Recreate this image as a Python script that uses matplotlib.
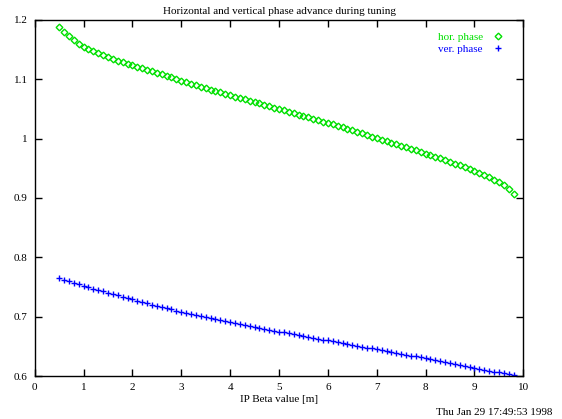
import numpy as np
import matplotlib.pyplot as plt

plt.rcParams['font.family'] = ['Liberation Serif', 'DejaVu Serif']

beta = np.round(np.arange(5, 99) / 10., 1)

hor_phase = [
    1.1880, 1.1800, 1.1730, 1.1660, 1.1600, 1.1550,
    1.1510, 1.1472, 1.1437, 1.1404, 1.1373, 1.1344, 1.1316, 1.1289, 1.1264, 1.1240,
    1.1215, 1.1190, 1.1165, 1.1140, 1.1113, 1.1086, 1.1059, 1.1032, 1.1006, 1.0980,
    1.0954, 1.0928, 1.0902, 1.0877, 1.0852, 1.0827, 1.0803, 1.0779, 1.0755, 1.0731,
    1.0708, 1.0685, 1.0662, 1.0639, 1.0616, 1.0593, 1.0570, 1.0547, 1.0524, 1.0501,
    1.0478, 1.0454, 1.0431, 1.0407, 1.0384, 1.0360, 1.0336, 1.0312, 1.0288, 1.0264,
    1.0240, 1.0215, 1.0190, 1.0164, 1.0138, 1.0113, 1.0087, 1.0061, 1.0035, 1.0009,
    0.9983, 0.9957, 0.9931, 0.9905, 0.9879, 0.9853, 0.9827, 0.9801, 0.9775, 0.9749,
    0.9723, 0.9695, 0.9667, 0.9638, 0.9609, 0.9579, 0.9549, 0.9518, 0.9486, 0.9453,
    0.9418, 0.9383, 0.9346, 0.9308, 0.9265, 0.9215, 0.9150, 0.9060,
]

ver_phase = [
    0.7650, 0.7622, 0.7595, 0.7569, 0.7544, 0.7520,
    0.7496, 0.7473, 0.7450, 0.7427, 0.7404, 0.7381, 0.7358, 0.7335, 0.7312, 0.7290,
    0.7268, 0.7247, 0.7226, 0.7205, 0.7184, 0.7163, 0.7142, 0.7121, 0.7100, 0.7080,
    0.7062, 0.7044, 0.7027, 0.7010, 0.6993, 0.6976, 0.6959, 0.6942, 0.6926, 0.6910,
    0.6894, 0.6878, 0.6862, 0.6846, 0.6830, 0.6814, 0.6798, 0.6782, 0.6766, 0.6750,
    0.6735, 0.6720, 0.6705, 0.6690, 0.6675, 0.6660, 0.6645, 0.6630, 0.6615, 0.6600,
    0.6585, 0.6570, 0.6555, 0.6540, 0.6525, 0.6510, 0.6495, 0.6480, 0.6465, 0.6450,
    0.6435, 0.6420, 0.6405, 0.6390, 0.6375, 0.6360, 0.6345, 0.6330, 0.6315, 0.6300,
    0.6284, 0.6268, 0.6252, 0.6236, 0.6220, 0.6204, 0.6188, 0.6172, 0.6156, 0.6140,
    0.6124, 0.6108, 0.6092, 0.6076, 0.6060, 0.6043, 0.6026, 0.6010,
]

xticks = [0, 1, 2, 3, 4, 5, 6, 7, 8, 9, 10]
yticks = [0.6, 0.7, 0.8, 0.9, 1.0, 1.1, 1.2]
ytick_labels = ['0.6', '0.7', '0.8', '0.9', '1', '1.1', '1.2']

fig = plt.figure(figsize=(5.62, 4.19), dpi=100)
ax = fig.add_axes([0.0617, 0.1026, 0.8695, 0.8497])

ax.plot(beta, hor_phase, linestyle='none', marker='D', ms=3.4, mew=1.0,
        mfc='none', mec='#00e000', color='#00e000', label='hor. phase')
ax.plot(beta, ver_phase, linestyle='none', marker='+', ms=5, mew=1.0,
        color='#0000ff', label='ver. phase')

ax.set_xlim(0, 10)
ax.set_ylim(0.6, 1.2)
ax.set_xticks(xticks)
ax.set_yticks(yticks)
ax.set_yticklabels(ytick_labels)
ax.tick_params(direction='in', top=True, right=True, length=5, width=1,
               labelsize=8, pad=5)
for s in ax.spines.values():
    s.set_linewidth(1.0)

ax.set_title('Horizontal and vertical phase advance during tuning', fontsize=8, pad=4)
ax.set_xlabel('IP Beta value [m]', fontsize=8, labelpad=2)

leg = ax.legend(loc='upper right', bbox_to_anchor=(0.959, 0.965), frameon=False,
                markerfirst=False, labelcolor='linecolor', fontsize=8,
                handlelength=1.0, handletextpad=0.85, labelspacing=0.2,
                borderaxespad=0, borderpad=0)

fig.text(0.983, 0.004, 'Thu Jan 29 17:49:53 1998', ha='right', va='bottom', fontsize=8)

fig.savefig('out.png', dpi=100)
